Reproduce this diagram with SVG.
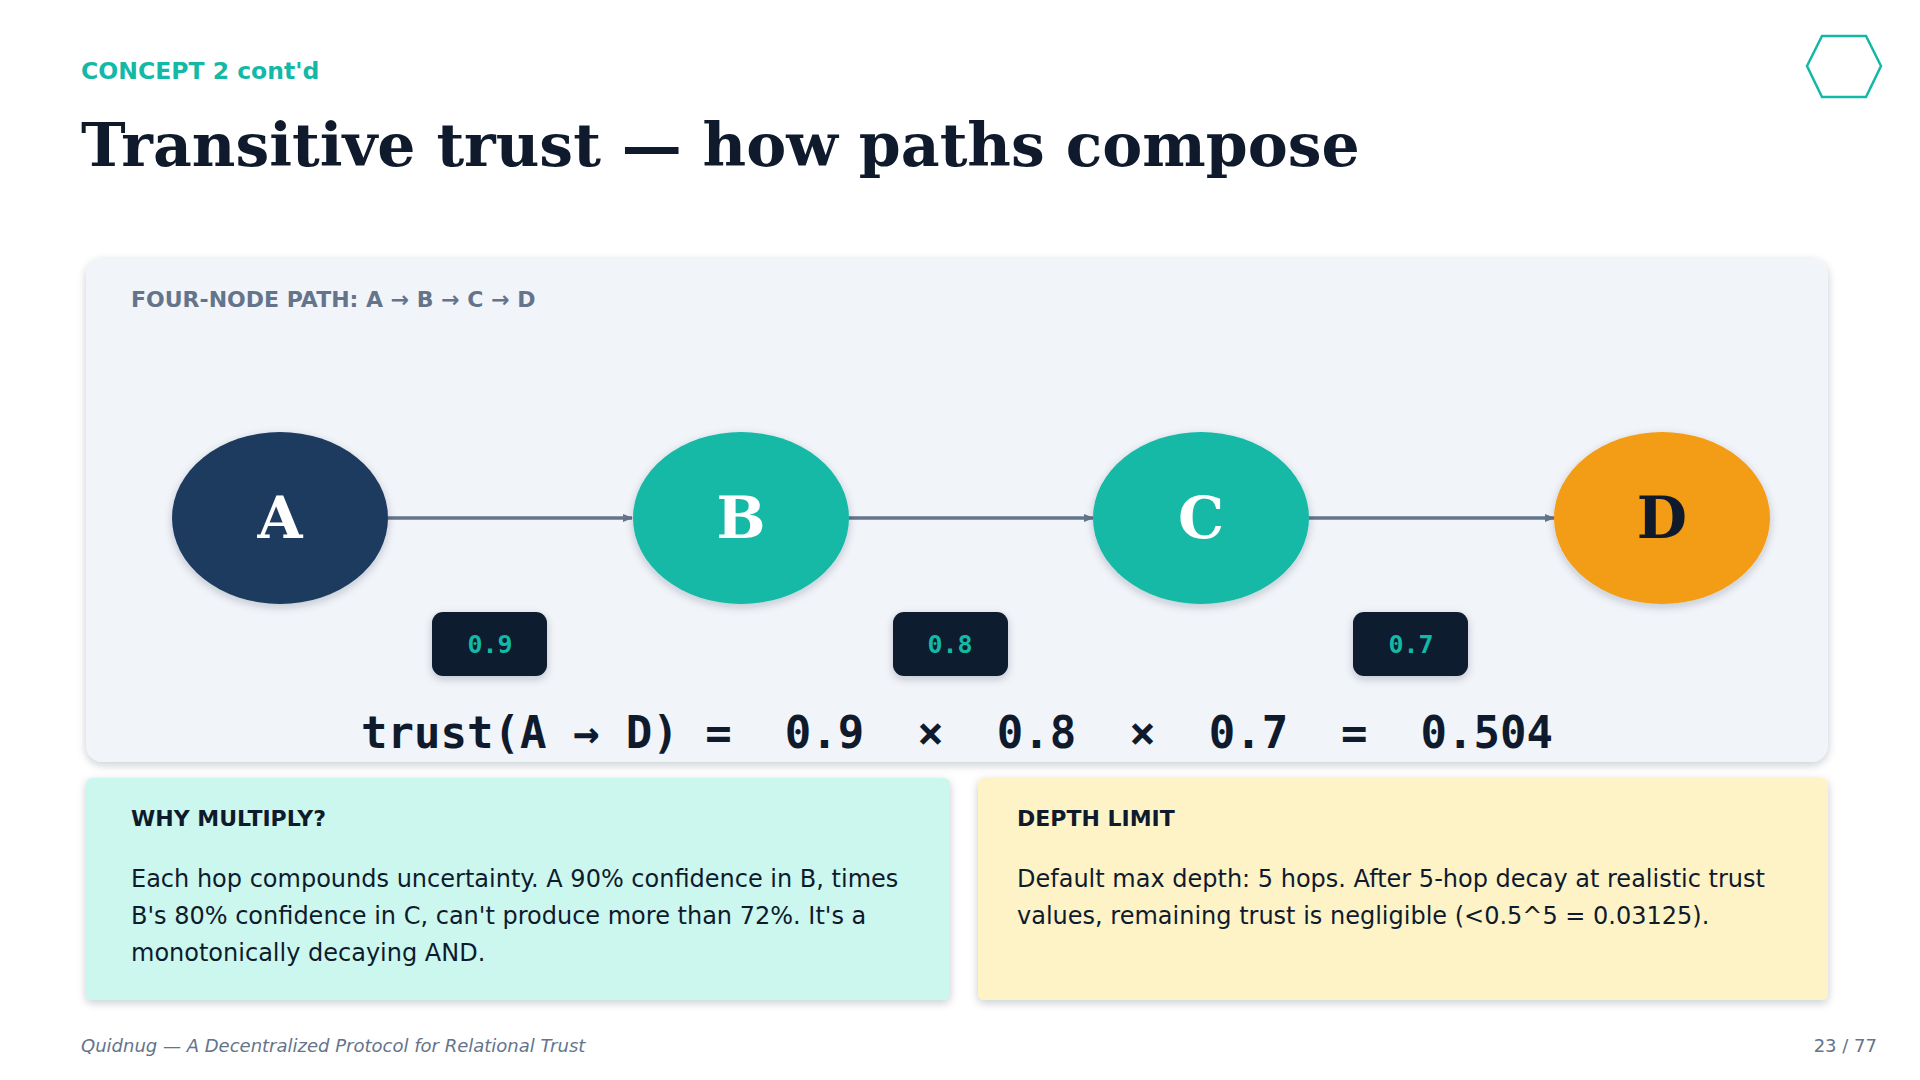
<svg xmlns="http://www.w3.org/2000/svg" width="1920" height="1080" viewBox="0 0 1920 1080">
<defs>
<filter id="sh" x="-10%" y="-10%" width="120%" height="130%"><feDropShadow dx="0" dy="3" stdDeviation="4" flood-color="#0f1b2d" flood-opacity="0.22"/></filter>
<marker id="ar" markerWidth="10" markerHeight="10" refX="9" refY="5" orient="auto" markerUnits="userSpaceOnUse"><path d="M0,1 L10,5 L0,9 Z" fill="#64748b"/></marker>
<style>
.sans{font-family:"DejaVu Sans","Noto Sans",sans-serif}
.serif{font-family:"DejaVu Serif","Liberation Serif",serif;font-weight:bold}
.mono{font-family:"DejaVu Sans Mono","Liberation Mono",monospace}
.body{font-size:24px;fill:#0f1b2d}
.head{font-size:22px;font-weight:bold;fill:#0f1b2d}
.node{font-size:58px;text-anchor:middle}
.w{fill:#14b8a6;font-size:25px;font-weight:bold;text-anchor:middle}
.edge{stroke:#64748b;stroke-width:3.5;marker-end:url(#ar)}
</style>
</defs>
<rect width="1920" height="1080" fill="#ffffff"/>
<text x="81" y="79" class="sans" font-size="23.5" font-weight="bold" fill="#14b8a6">CONCEPT 2 cont'd</text>
<text x="81" y="166" class="serif" font-size="60" fill="#0f1b2d">Transitive trust — how paths compose</text>
<polygon points="1822,36 1866,36 1881,66 1866,97 1822,97 1807,66" fill="none" stroke="#14b8a6" stroke-width="2.5"/>
<g id="panel">
<rect x="86" y="258" width="1742" height="504" rx="17" fill="#f1f4f9" filter="url(#sh)"/>
<text x="131" y="307" class="sans" font-size="22" font-weight="bold" fill="#64748b">FOUR-NODE PATH: A → B → C → D</text>
</g>
<g id="connectors">
<line x1="388" y1="518" x2="632" y2="518" class="edge"/>
<line x1="849" y1="518" x2="1093" y2="518" class="edge"/>
<line x1="1309" y1="518" x2="1554" y2="518" class="edge"/>
</g>
<g id="nodeA"><ellipse cx="280" cy="518" rx="108" ry="86" fill="#1e3a5f" filter="url(#sh)"/><text x="280" y="538" class="serif node" fill="#ffffff">A</text></g>
<g id="nodeB"><ellipse cx="741" cy="518" rx="108" ry="86" fill="#14b8a6" filter="url(#sh)"/><text x="741" y="538" class="serif node" fill="#ffffff">B</text></g>
<g id="nodeC"><ellipse cx="1201" cy="518" rx="108" ry="86" fill="#14b8a6" filter="url(#sh)"/><text x="1201" y="538" class="serif node" fill="#ffffff">C</text></g>
<g id="nodeD"><ellipse cx="1662" cy="518" rx="108" ry="86" fill="#f39c12" filter="url(#sh)"/><text x="1662" y="538" class="serif node" fill="#0f1b2d">D</text></g>
<g id="w1"><rect x="432" y="612" width="115" height="64" rx="11" fill="#0f1b2d" filter="url(#sh)"/><text x="490" y="653" class="mono w">0.9</text></g>
<g id="w2"><rect x="893" y="612" width="115" height="64" rx="11" fill="#0f1b2d" filter="url(#sh)"/><text x="950" y="653" class="mono w">0.8</text></g>
<g id="w3"><rect x="1353" y="612" width="115" height="64" rx="11" fill="#0f1b2d" filter="url(#sh)"/><text x="1411" y="653" class="mono w">0.7</text></g>
<text x="957" y="748" class="mono" font-size="44" font-weight="bold" fill="#0f1b2d" text-anchor="middle" xml:space="preserve">trust(A → D) =  0.9  ×  0.8  ×  0.7  =  0.504</text>
<g id="card1">
<rect x="86" y="778" width="864" height="222" rx="6" fill="#ccf7ee" filter="url(#sh)"/>
<text x="131" y="826" class="sans head">WHY MULTIPLY?</text>
<text class="sans body"><tspan x="131" y="887">Each hop compounds uncertainty. A 90% confidence in B, times</tspan><tspan x="131" y="924">B's 80% confidence in C, can't produce more than 72%. It's a</tspan><tspan x="131" y="961">monotonically decaying AND.</tspan></text>
</g>
<g id="card2">
<rect x="978" y="778" width="850" height="222" rx="6" fill="#fef3c7" filter="url(#sh)"/>
<text x="1017" y="826" class="sans head">DEPTH LIMIT</text>
<text class="sans body"><tspan x="1017" y="887">Default max depth: 5 hops. After 5-hop decay at realistic trust</tspan><tspan x="1017" y="924">values, remaining trust is negligible (&lt;0.5^5 = 0.03125).</tspan></text>
</g>
<text x="81" y="1052" class="sans" font-size="18" font-style="italic" fill="#64748b">Quidnug — A Decentralized Protocol for Relational Trust</text>
<text x="1877" y="1052" class="sans" font-size="18" fill="#64748b" text-anchor="end">23 / 77</text>
</svg>
